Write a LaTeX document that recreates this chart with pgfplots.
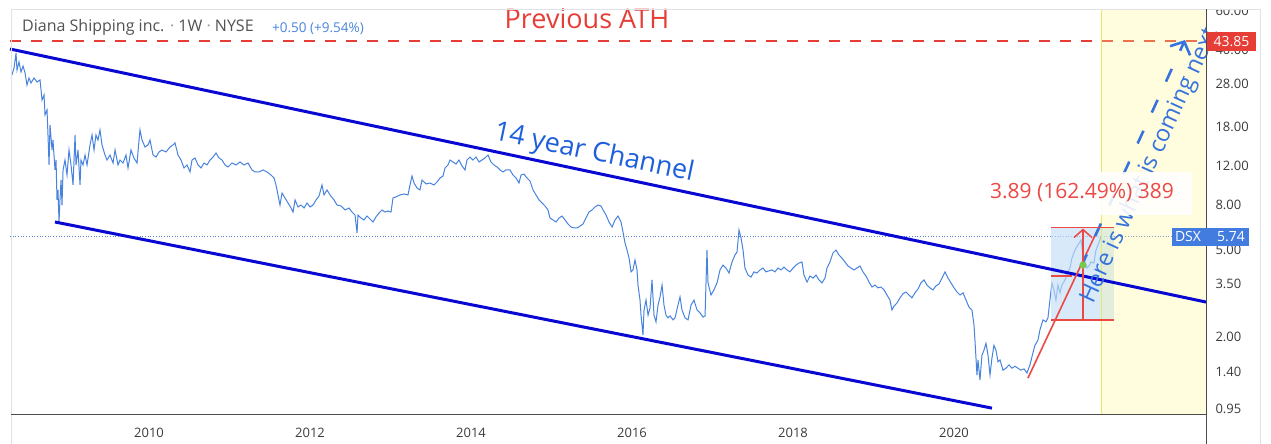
\documentclass[border=0pt]{standalone}
\usepackage{pgfplots}
\pgfplotsset{compat=1.18}
\usepackage{fontspec}
\setmainfont{Open Sans}
\usetikzlibrary{arrows.meta}
\definecolor{barblue}{RGB}{72,132,222}
\definecolor{chan}{RGB}{8,8,210}
\definecolor{athred}{RGB}{230,62,55}
\definecolor{txtblue}{RGB}{30,95,220}
\definecolor{hereblue}{RGB}{55,115,220}
\definecolor{meas}{RGB}{236,72,68}
\definecolor{axtext}{RGB}{60,60,60}
\definecolor{framegray}{RGB}{224,226,232}
\definecolor{dsxblue}{RGB}{66,124,222}
\definecolor{yel}{RGB}{255,248,140}
\definecolor{yelline}{RGB}{232,232,100}
\definecolor{measfill}{RGB}{196,222,248}
\definecolor{gdot}{RGB}{120,200,80}
\begin{document}
\begin{tikzpicture}
\useasboundingbox (0,0) rectangle (1271pt,444pt);
\fill[white] (0,0) rectangle (1271pt,444pt);
\begin{axis}[at={(10pt,29pt)}, anchor=south west, scale only axis,
  width=1196pt, height=406pt,
  xmin=2008.273, xmax=2023.130, ymode=log, ymin=0.8899, ymax=61.39,
  axis line style={draw=none}, major tick length=0pt, minor tick length=0pt,
  xtick={2010,2012,2014,2016,2018,2020},
  xticklabels={2010,2012,2014,2016,2018,2020},
  ytick={0.95,1.4,2,3.5,5,8,12,18,28,40,60},
  yticklabels={0.95,1.40,2.00,3.50,5.00,8.00,12.00,18.00,28.00,40.00,60.00},
  yticklabel pos=right,
  tick label style={font=\fontsize{13}{15}\selectfont, text=axtext},
  xticklabel style={anchor=base, yshift=-22pt},
  yticklabel style={anchor=west, xshift=6pt},
  clip=false, /pgf/number format/assume math mode=true]

% current price dotted line
\draw[dotted, line width=0.7pt, color=barblue!80!gray] (axis cs:2008.273,5.74) -- (axis cs:2023.130,5.74);

% price series
\addplot[color=barblue, line width=1pt, mark=none] table {
2008.298 30.85
2008.323 33.19
2008.348 38.80
2008.360 32.50
2008.385 35.33
2008.410 31.83
2008.435 33.88
2008.460 31.50
2008.484 27.79
2008.509 29.90
2008.534 28.38
2008.571 29.90
2008.609 28.67
2008.646 29.28
2008.671 23.77
2008.696 25.04
2008.708 20.33
2008.733 21.41
2008.745 16.50
2008.758 12.07
2008.770 18.31
2008.795 14.11
2008.807 15.66
2008.832 11.46
2008.845 12.71
2008.857 8.38
2008.869 9.30
2008.882 6.66
2008.894 8.38
2008.907 10.32
2008.919 7.95
2008.932 11.46
2008.956 12.71
2008.981 10.87
2009.006 14.11
2009.031 12.07
2009.056 9.80
2009.081 16.50
2009.093 12.07
2009.118 14.11
2009.143 9.80
2009.155 12.71
2009.180 12.07
2009.205 13.39
2009.230 12.07
2009.267 14.87
2009.292 16.50
2009.317 14.11
2009.341 16.50
2009.366 15.66
2009.391 17.38
2009.416 14.87
2009.453 13.39
2009.478 12.71
2009.515 13.39
2009.553 12.32
2009.578 14.11
2009.615 12.07
2009.640 12.71
2009.677 12.32
2009.714 13.39
2009.739 11.70
2009.776 14.11
2009.813 12.98
2009.851 12.32
2009.876 15.66
2009.888 17.38
2009.913 15.66
2009.950 14.56
2009.988 14.87
2010.012 15.66
2010.050 13.39
2010.087 13.11
2010.124 13.82
2010.161 14.11
2010.211 13.82
2010.261 14.56
2010.298 14.87
2010.323 15.19
2010.360 13.39
2010.397 12.71
2010.435 11.70
2010.472 12.07
2010.509 11.22
2010.534 12.71
2010.571 12.98
2010.609 12.07
2010.646 11.70
2010.683 12.32
2010.720 12.07
2010.758 12.71
2010.795 13.11
2010.832 13.67
2010.870 12.98
2010.907 12.71
2010.944 12.07
2010.981 11.82
2011.031 12.32
2011.081 12.07
2011.130 12.45
2011.180 12.07
2011.230 12.32
2011.279 11.46
2011.317 11.22
2011.366 11.22
2011.416 11.46
2011.466 11.22
2011.515 10.87
2011.553 10.54
2011.577 9.80
2011.602 8.83
2011.627 7.95
2011.652 9.01
2011.689 8.56
2011.727 8.12
2011.764 7.71
2011.789 7.39
2011.814 8.38
2011.851 7.79
2011.888 7.95
2011.926 7.71
2011.963 8.12
2012.000 7.79
2012.037 7.95
2012.075 8.38
2012.112 8.74
2012.149 9.80
2012.174 8.83
2012.211 9.30
2012.248 8.83
2012.298 8.38
2012.335 7.95
2012.385 7.87
2012.435 7.55
2012.484 7.71
2012.521 7.39
2012.559 7.16
2012.584 5.94
2012.596 7.16
2012.633 6.94
2012.670 6.80
2012.708 7.09
2012.745 6.87
2012.782 6.66
2012.819 7.02
2012.857 7.31
2012.894 7.55
2012.931 7.39
2012.969 7.47
2013.006 7.39
2013.031 8.56
2013.068 8.65
2013.118 8.83
2013.168 8.92
2013.217 8.83
2013.242 9.80
2013.267 10.76
2013.292 10.00
2013.329 9.50
2013.366 9.30
2013.391 10.32
2013.441 9.90
2013.491 10.00
2013.540 9.80
2013.578 10.11
2013.615 10.54
2013.652 10.76
2013.677 11.70
2013.714 12.07
2013.739 12.71
2013.776 12.45
2013.814 12.19
2013.851 12.71
2013.888 11.94
2013.925 11.46
2013.950 12.71
2013.987 13.11
2014.024 12.71
2014.062 13.11
2014.099 12.45
2014.136 12.71
2014.174 12.98
2014.211 13.39
2014.248 12.45
2014.285 12.07
2014.323 11.82
2014.360 11.46
2014.397 11.22
2014.434 11.46
2014.484 11.46
2014.521 10.87
2014.559 10.54
2014.596 10.00
2014.621 10.87
2014.658 10.98
2014.695 10.54
2014.733 10.21
2014.770 9.30
2014.807 8.83
2014.845 8.38
2014.882 8.12
2014.919 7.87
2014.956 7.55
2014.981 6.94
2015.019 6.80
2015.056 6.66
2015.093 6.94
2015.130 7.09
2015.168 6.80
2015.205 6.52
2015.242 6.32
2015.279 6.26
2015.317 6.26
2015.354 6.38
2015.391 6.52
2015.428 6.94
2015.466 7.39
2015.503 7.55
2015.540 7.79
2015.577 7.95
2015.615 7.87
2015.640 7.55
2015.677 7.16
2015.714 6.66
2015.752 6.32
2015.789 6.80
2015.826 7.09
2015.863 6.66
2015.888 6.00
2015.913 5.35
2015.938 4.97
2015.963 4.57
2015.988 3.96
2016.012 4.04
2016.037 4.48
2016.062 4.04
2016.074 3.45
2016.099 2.95
2016.112 2.52
2016.136 2.05
2016.149 2.66
2016.174 2.95
2016.199 2.52
2016.224 2.72
2016.248 3.64
2016.273 2.52
2016.298 2.35
2016.323 2.80
2016.348 3.05
2016.373 3.45
2016.397 2.80
2016.422 2.52
2016.447 2.45
2016.472 2.50
2016.509 2.40
2016.534 2.45
2016.571 2.80
2016.596 3.05
2016.621 2.66
2016.658 2.45
2016.696 2.40
2016.733 2.80
2016.770 2.95
2016.807 2.66
2016.845 2.58
2016.882 2.47
2016.907 2.50
2016.931 4.97
2016.944 3.53
2016.981 3.11
2017.018 3.28
2017.056 3.53
2017.093 4.04
2017.130 4.25
2017.167 4.12
2017.205 3.91
2017.242 4.39
2017.279 4.72
2017.304 4.87
2017.329 6.13
2017.354 5.64
2017.379 4.97
2017.403 4.12
2017.441 3.83
2017.478 3.75
2017.515 3.96
2017.552 3.91
2017.590 4.04
2017.627 4.12
2017.664 3.96
2017.701 4.00
2017.739 4.04
2017.776 3.96
2017.813 4.12
2017.851 4.04
2017.888 4.16
2017.925 4.04
2017.962 3.96
2018.000 4.12
2018.037 4.25
2018.074 4.34
2018.111 4.39
2018.136 3.83
2018.174 3.56
2018.211 3.79
2018.248 3.71
2018.285 3.83
2018.323 3.64
2018.360 3.53
2018.397 3.71
2018.422 4.12
2018.459 4.39
2018.496 4.82
2018.534 4.97
2018.571 4.72
2018.608 4.57
2018.645 4.39
2018.683 4.21
2018.720 4.12
2018.757 4.04
2018.794 4.12
2018.832 4.21
2018.869 3.96
2018.906 3.79
2018.944 3.56
2018.981 3.38
2019.018 3.45
2019.055 3.35
2019.093 3.38
2019.130 3.28
2019.167 3.11
2019.204 2.95
2019.229 2.66
2019.254 2.77
2019.291 2.86
2019.329 3.02
2019.366 3.15
2019.403 3.21
2019.440 3.11
2019.478 3.02
2019.515 3.18
2019.552 3.31
2019.589 3.53
2019.627 3.64
2019.664 3.45
2019.701 3.35
2019.738 3.28
2019.776 3.42
2019.813 3.49
2019.850 3.71
2019.888 3.96
2019.925 3.71
2019.962 3.53
2020.000 3.35
2020.037 3.21
2020.074 3.11
2020.112 3.18
2020.149 2.95
2020.186 2.74
2020.223 2.66
2020.248 2.27
2020.260 1.94
2020.285 1.35
2020.298 1.58
2020.322 1.28
2020.347 1.66
2020.372 1.75
2020.397 1.88
2020.422 1.66
2020.447 1.35
2020.471 1.61
2020.496 1.84
2020.521 1.75
2020.546 1.55
2020.571 1.58
2020.608 1.42
2020.645 1.45
2020.683 1.50
2020.720 1.45
2020.757 1.48
2020.794 1.45
2020.831 1.42
2020.869 1.44
2020.906 1.38
2020.943 1.50
2020.980 1.70
2021.005 1.84
2021.042 1.94
2021.067 2.16
2021.105 2.40
2021.142 2.35
2021.167 2.45
2021.191 2.95
2021.216 3.53
2021.241 3.28
2021.266 2.95
2021.291 3.45
2021.316 3.18
2021.340 3.45
2021.378 3.64
2021.415 3.96
2021.440 4.12
2021.465 4.57
2021.502 4.97
2021.539 5.24
2021.577 5.52
2021.601 4.72
2021.626 4.39
2021.651 4.12
2021.676 4.21
2021.701 4.39
2021.738 4.34
2021.763 4.97
2021.788 5.24
2021.813 5.52
2021.825 5.74
};

% measurement box fill
\fill[measfill, opacity=0.65] (axis cs:2021.205,2.394) rectangle (axis cs:2021.987,6.284);

% previous ATH dashed line
\draw[athred, line width=1.8pt, dash pattern=on 11pt off 10pt] (axis cs:2008.273,43.85) -- (axis cs:2023.130,43.85);

% yellow future region
\fill[yel, opacity=0.28] (axis cs:2021.826,0.8899) rectangle (axis cs:2023.130,61.39);
\draw[yelline, line width=0.8pt] (axis cs:2021.826,0.8899) -- (axis cs:2021.826,61.39);

% channel lines
\draw[chan, line width=3pt] (axis cs:2008.273,40.45) -- (axis cs:2023.130,2.89);
\draw[chan, line width=3pt] (axis cs:2008.832,6.66) -- (axis cs:2020.471,0.956);

% red trend line
\draw[meas, line width=1.6pt] (axis cs:2020.918,1.307) -- (axis cs:2021.788,6.19);

% blue dashed projection
\draw[hereblue, line width=2.6pt, dash pattern=on 14pt off 20pt, -{Straight Barb[length=10pt,width=22pt]}]
  (axis cs:2021.577,4.16) -- (axis cs:2022.869,44.4);

% measurement lines
\draw[meas, line width=1.5pt] (axis cs:2021.205,6.284) -- (axis cs:2021.987,6.284);
\draw[meas, line width=1.5pt] (axis cs:2021.205,2.394) -- (axis cs:2021.987,2.394);
\draw[meas, line width=1.2pt] (axis cs:2021.205,3.79) -- (axis cs:2021.465,3.79);
\draw[meas, line width=1.5pt, -{Straight Barb[length=8pt,width=18pt]}] (axis cs:2021.602,2.394) -- (axis cs:2021.602,6.22);
\fill[gdot] (axis cs:2021.602,4.25) circle (3.6pt);

% texts
\node[text=txtblue, font=\fontsize{27}{32}\selectfont, rotate=-11.8] at (axis cs:2015.528,13.6) {14 year Channel};
\node[text=athred, font=\fontsize{27}{32}\selectfont] at (axis cs:2015.44,55.5) {Previous ATH};
\node[text=hereblue, font=\fontsize{23.5}{28}\selectfont, rotate=65.4] at (axis cs:2022.434,11.94) {Here is what is coming next};

% label box
\node[fill=white, fill opacity=0.88, text opacity=1, text=meas, minimum width=220pt, minimum height=43pt, font=\fontsize{21}{25}\selectfont] at (axis cs:2021.589,9.01) {3.89 (162.49\%) 389};
\end{axis}

% axes and frame
\fill[white] (1207pt,435pt) rectangle (1271pt,444pt);
\draw[framegray, line width=0.8pt] (11pt,0) -- (11pt,435pt) -- (1260pt,435pt) -- (1260pt,0);
\draw[black!70, line width=1pt] (11pt,29pt) -- (1206pt,29pt);
\draw[black!70, line width=1pt] (1206pt,0) -- (1206pt,435pt);

% price labels
\fill[athred] (1207pt,393pt) rectangle (1256pt,412pt);
\node[text=white, font=\fontsize{14}{16}\selectfont] at (1231.5pt,402.5pt) {43.85};
\fill[dsxblue] (1172pt,198pt) rectangle (1249pt,216pt);
\node[text=white, font=\fontsize{14}{16}\selectfont] at (1188pt,207pt) {DSX};
\node[text=white, font=\fontsize{14}{16}\selectfont] at (1231pt,207pt) {5.74};

% title
\node[anchor=west, text=black!68, font=\fontsize{16}{19}\selectfont, inner sep=0pt] at (22pt,417pt) {Diana Shipping inc. \textcolor{black!40}{·} 1W \textcolor{black!40}{·} NYSE};
\node[anchor=west, text=barblue, font=\fontsize{13.5}{16}\selectfont, inner sep=0pt] at (272pt,415.5pt) {+0.50 (+9.54\%)};
\end{tikzpicture}
\end{document}
